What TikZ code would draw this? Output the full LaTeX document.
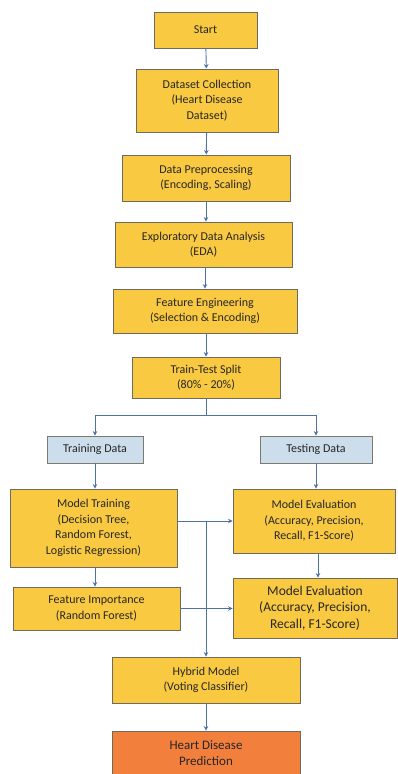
\documentclass[tikz,border=0pt]{standalone}
\usepackage{fontspec}
\setmainfont{Carlito}
\usetikzlibrary{arrows.meta}
\definecolor{boxyellow}{HTML}{F9C941}
\definecolor{boxblue}{HTML}{CCDDEB}
\definecolor{boxorange}{HTML}{F37F3D}
\definecolor{edgegray}{HTML}{6E6A5C}
\definecolor{linkblue}{HTML}{4F72A6}
\begin{document}
\begin{tikzpicture}[x=1pt,y=-1pt,
  every node/.style={align=center,font=\fontsize{12}{15.5}\selectfont,text=black!85,inner sep=1pt},
  stage/.style={draw=edgegray,line width=0.9pt,fill=boxyellow},
  datasplit/.style={draw=edgegray!90,line width=0.8pt,fill=boxblue},
  result/.style={draw=edgegray,line width=0.9pt,fill=boxorange},
  link/.style={draw=linkblue,line width=0.9pt},
  arr/.style={link,-{Stealth[length=4.5pt,width=4.5pt]}}]
\useasboundingbox (0,0) rectangle (398,774);
% main column
\node[stage,minimum width=103pt,minimum height=36pt] (start) at (205.5,30) {Start};
\node[stage,minimum width=142pt,minimum height=63pt] (collect) at (207,100.5) {Dataset Collection\\(Heart Disease\\Dataset)};
\node[stage,minimum width=168pt,minimum height=46pt] (prep) at (206,178) {Data Preprocessing\\(Encoding, Scaling)};
\node[stage,minimum width=177pt,minimum height=45pt] (eda) at (203.5,244.5) {Exploratory Data Analysis\\(EDA)};
\node[stage,minimum width=184pt,minimum height=44pt] (feng) at (205,311) {Feature Engineering\\(Selection \& Encoding)};
\node[stage,minimum width=148pt,minimum height=41pt] (split) at (206,377.5) {Train-Test Split\\(80\% - 20\%)};
% two branches
\node[datasplit,minimum width=96pt,minimum height=27pt] (train) at (95,449.5) {Training Data};
\node[datasplit,minimum width=112pt,minimum height=27pt] (test) at (316,449.5) {Testing Data};
\node[stage,minimum width=167pt,minimum height=78pt] (mtrain) at (93.5,528) {Model Training\\(Decision Tree,\\Random Forest,\\Logistic Regression)};
\node[stage,minimum width=162pt,minimum height=64pt] (evalA) at (314,521) {Model Evaluation\\(Accuracy, Precision,\\Recall, F1-Score)};
\node[stage,minimum width=167pt,minimum height=43pt] (fimp) at (96.5,608.5) {Feature Importance\\(Random Forest)};
\node[stage,minimum width=164pt,minimum height=60pt,font=\fontsize{13.5}{16.5}\selectfont] (evalB) at (315,608) {Model Evaluation\\(Accuracy, Precision,\\Recall, F1-Score)};
% end
\node[stage,minimum width=188pt,minimum height=46pt] (hybrid) at (206,680) {Hybrid Model\\(Voting Classifier)};
\node[result,minimum width=188pt,minimum height=44pt,font=\fontsize{13}{16}\selectfont] (pred) at (206,753) {Heart Disease\\Prediction};
\coordinate (fork) at (206,415);
\coordinate (hub) at (206,521);
% connectors
\draw[arr] (start) -- (collect);
\draw[arr] (collect) -- (prep);
\draw[arr] (prep.south) -- (prep.south |- eda.north);
\draw[arr] (eda.south -| feng) -- (feng.north);
\draw[arr] (feng.south -| split) -- (split.north);
\draw[link] (split) -- (fork);
\draw[arr] (fork) -| (train);
\draw[arr] (fork) -| (test);
\draw[arr] (train) -- (train |- mtrain.north);
\draw[arr] (test) -- (test |- evalA.north);
\draw[arr] (mtrain.east |- evalA.west) -- (evalA.west);
\draw[arr] (evalA.south -| 318,0) -- (evalB.north -| 318,0);
\draw[arr] (mtrain.south -| train) -- (fimp.north -| train);
\draw[arr] (fimp.east) -- (fimp.east -| evalB.west);
\draw[arr] (hub) -- (hybrid);
\draw[arr] (hybrid) -- (pred);
\end{tikzpicture}
\end{document}
